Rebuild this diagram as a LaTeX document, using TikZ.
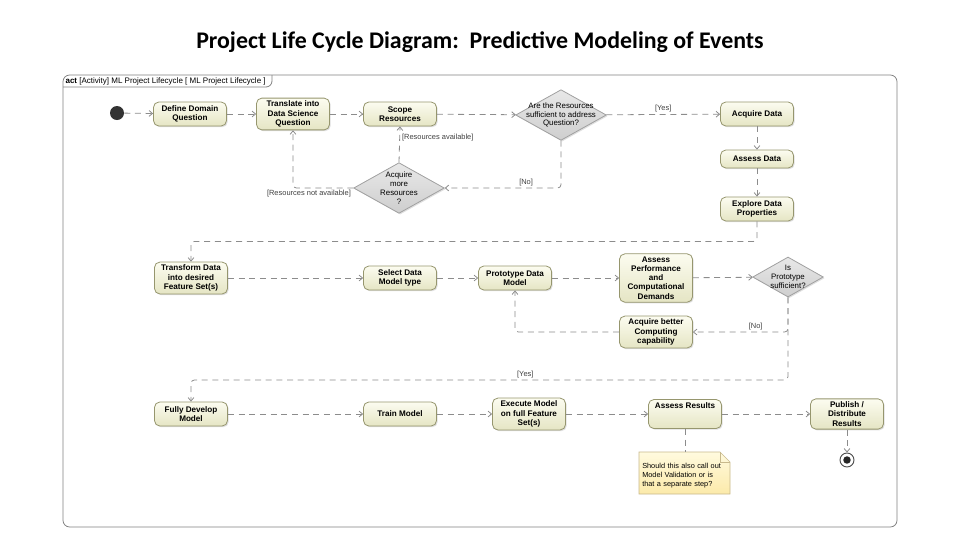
\documentclass[tikz,border=0pt]{standalone}
\usepackage{fontspec}
\setsansfont{Liberation Sans}
\newfontfamily\titlefont{Carlito}
\usepackage{tikz}
\usetikzlibrary{positioning,calc,shapes.geometric,arrows.meta,shadows}
\definecolor{acttop}{RGB}{252,252,240}
\definecolor{actbot}{RGB}{229,229,196}
\definecolor{actline}{RGB}{150,150,110}
\definecolor{dectop}{RGB}{232,232,232}
\definecolor{decbot}{RGB}{206,206,206}
\definecolor{decline}{RGB}{160,160,160}
\definecolor{flowgray}{RGB}{140,140,140}
\definecolor{notetop}{RGB}{255,250,222}
\definecolor{notebot}{RGB}{252,234,170}
\definecolor{noteline}{RGB}{200,185,140}

\begin{document}
\begin{tikzpicture}[
    x=0.75pt,y=-0.75pt,
    act/.style={rectangle,rounded corners=4pt,draw=actline,line width=0.6pt,
                top color=acttop,bottom color=actbot,align=center,
                font=\fontsize{6.1}{6.9}\selectfont\sffamily\bfseries,
                minimum width=54.75pt,minimum height=18pt,inner sep=2.2pt,
                drop shadow={shadow xshift=0.9pt,shadow yshift=-0.9pt,fill=black!25}},
    dec/.style={diamond,draw=decline,line width=0.6pt,top color=dectop,
                bottom color=decbot,inner sep=0pt,minimum width=68pt,
                minimum height=38pt,
                drop shadow={shadow xshift=0.9pt,shadow yshift=-0.9pt,fill=black!25}},
    dectext/.style={align=center,inner sep=0pt,
                    font=\fontsize{5.9}{6.6}\selectfont\sffamily},
    guard/.style={font=\fontsize{5.6}{6.4}\selectfont\sffamily,text=black!75,
                  inner sep=1.5pt},
    flow/.style={draw=flowgray,line width=0.6pt,dash pattern=on 4.5pt off 3.5pt,
                 rounded corners=2.5pt,-{Straight Barb[length=2.6pt,width=4.4pt]}},
    notelink/.style={draw=flowgray,line width=0.6pt,dash pattern=on 4.5pt off 3.5pt}
]
  \useasboundingbox (0,0) rectangle (960,540);

  % Slide title
  \node[font=\titlefont\fontsize{17.9}{21}\selectfont\bfseries] (title) at (480,42)
    {Project Life Cycle Diagram:\ \ Predictive Modeling of Events};

  % Activity frame with its name tab
  \draw[draw=black!50,line width=0.6pt,rounded corners=5pt] (63,75) rectangle (897,527);
  \draw[draw=black!50,line width=0.6pt] (63,87) -- (266,87) to[out=0,in=-90] (272,81) -- (272,75);
  \node[anchor=west,inner sep=1pt,font=\fontsize{6}{7}\selectfont\sffamily] (tab) at (64,81)
    {\textbf{act} [Activity] ML Project Lifecycle [ ML Project Lifecycle ]};

  % Row 1: framing the question and resources
  \node[circle,fill=black!80,minimum size=10.5pt,inner sep=0pt] (start) at (117,113) {};
  \node[act] (define) at (190,114) {Define Domain\\Question};
  \node[act] (transl) at (293,114) {Translate into\\Data Science\\Question};
  \node[act] (scope)  at (400,114) {Scope\\Resources};
  \node[dec,label={[dectext]center:{Are the Resources\\sufficient to address\\Question?}}]
    (enough) at (561,115) {};
  \node[act] (acqdata) at (757,114) {Acquire Data};
  \node[act,minimum height=13.5pt] (assdata) at (757,159) {Assess Data};
  \node[act] (explore) at (757,209) {Explore Data\\Properties};
  \node[dec,label={[dectext]center:{Acquire\\more\\Resources\\?}}]
    (more) at (399,188) {};

  \draw[flow] (start) -- (define);
  \draw[flow] (define) -- (transl);
  \draw[flow] (transl) -- (scope);
  \draw[flow] (scope) -- (enough);
  \draw[flow] (enough) -- node[guard,above,pos=0.5]{[Yes]} (acqdata);
  \draw[flow] (enough.south) |- node[guard,above,pos=0.65]{[No]} (more.east);
  \draw[flow] (more.north) -- node[guard,right,pos=0.7]{[Resources available]} (scope.south);
  \draw[flow] (more.west) node[guard,below left]{[Resources not available]} -| (transl.south);
  \draw[flow] (acqdata) -- (assdata);
  \draw[flow] (assdata) -- (explore);

  % Row 2: features and prototype
  \node[act] (transform) at (191,278) {Transform Data\\into desired\\Feature Set(s)};
  \node[act] (select) at (400,278) {Select Data\\Model type};
  \node[act] (proto)  at (515,278) {Prototype Data\\Model};
  \node[act] (perf)   at (656,278) {Assess\\Performance\\and\\Computational\\Demands};
  \node[dec,minimum width=53pt,minimum height=30pt,
        label={[dectext]center:{Is\\Prototype\\sufficient?}}] (protook) at (788,277) {};
  \node[act] (better) at (656,332) {Acquire better\\Computing\\capability};

  \draw[flow] (explore.south) -- ++(0,20) -| (transform.north);
  \draw[flow] (transform) -- (select);
  \draw[flow] (select) -- (proto);
  \draw[flow] (proto) -- (perf);
  \draw[flow] (perf) -- (protook);
  \draw[flow] (protook.south) |- node[guard,above,pos=0.67]{[No]} (better.east);
  \draw[flow] (better.west) -| (proto.south);

  % Row 3: build, run and publish
  \node[act] (fully) at (191,414) {Fully Develop\\Model};
  \node[act] (train) at (400,414) {Train Model};
  \node[act] (exec)  at (529,414) {Execute Model\\on full Feature\\Set(s)};
  \node[act] (assres) at (685,414) {Assess Results\\[6pt]\mbox{}};
  \node[act] (publish) at (847,414) {Publish /\\Distribute\\Results};
  \node[circle,draw=black!70,line width=0.7pt,fill=white,minimum size=10.5pt,inner sep=0pt]
    (finish) at (847,460) {};
  \fill[black!85] (finish.center) circle (2.8pt);

  \coordinate (yesturn) at (788,380);
  \draw[flow] (protook.south) -- (yesturn) -| node[guard,above,pos=0.22]{[Yes]} (fully.north);
  \draw[flow] (fully) -- (train);
  \draw[flow] (train) -- (exec);
  \draw[flow] (exec) -- (assres);
  \draw[flow] (assres) -- (publish);
  \draw[flow] (publish) -- (finish);

  % Comment attached to Assess Results
  \coordinate (notetop) at (685,452);
  \draw[draw=noteline,line width=0.5pt,top color=notetop,bottom color=notebot]
    (639,452) -- (720,452) -- (730,462) -- (730,494) -- (639,494) -- cycle;
  \draw[draw=noteline,line width=0.5pt] (720,452) -- (720,462) -- (730,462);
  \node[anchor=north west,align=left,inner sep=1.5pt,text width=66pt,
        font=\fontsize{5.5}{6.6}\selectfont\sffamily] (note) at (640,461)
    {Should this also call out\\Model Validation or is\\that a separate step?};
  \draw[notelink] (assres.south) -- (notetop);
\end{tikzpicture}
\end{document}
